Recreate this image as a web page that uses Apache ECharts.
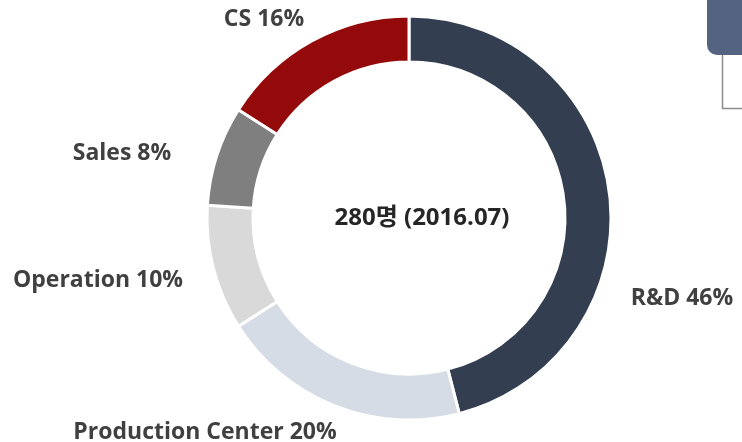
<!DOCTYPE html>
<html>
<head>
<meta charset="utf-8">
<script src="https://cdn.jsdelivr.net/npm/echarts@6/dist/echarts.min.js"></script>
<style>
  html, body { margin: 0; padding: 0; background: #fff; }
  #chart { width: 742px; height: 442px; }
</style>
</head>
<body>
<div id="chart"></div>
<script>
// 부서별 인원 비율
const categories = ['R&D', 'Production Center', 'Operation', 'Sales', 'CS'];
const percents = [46, 20, 10, 8, 16];
const colors = ['#333f50', '#d6dce5', '#d9d9d9', '#7f7f7f', '#940a0a'];
const centerText = '280명 (2016.07)';

// 라벨 위치 (중심 좌표)
const labelPos = [[682, 298], [205, 432], [98, 280], [122, 153], [264, 19]];

const font = '"Open Sans", "Noto Sans CJK KR", sans-serif';

const chart = echarts.init(document.getElementById('chart'));
const option = {
    animation: false,
    color: colors,
    series: [{
        type: 'pie',
        center: [409, 218],
        radius: [156, 202],
        startAngle: 90,
        clockwise: true,
        itemStyle: {
            borderColor: '#ffffff',
            borderWidth: 3
        },
        label: {
            show: true,
            position: 'outside',
            formatter: p => p.name + ' ' + p.value + '%',
            color: '#404040',
            fontFamily: font,
            fontWeight: 'bold',
            fontSize: 23,
            overflow: 'none'
        },
        labelLine: { show: false },
        labelLayout: params => ({
            x: labelPos[params.dataIndex][0],
            y: labelPos[params.dataIndex][1],
            align: 'center',
            verticalAlign: 'middle',
            width: 300
        }),
        emphasis: { disabled: true },
        data: categories.map((c, i) => ({ name: c, value: percents[i] }))
    }],
    graphic: [
        {
            type: 'text',
            x: 422,
            y: 218,
            style: {
                text: centerText,
                fill: '#262626',
                font: 'bold 24px ' + font,
                align: 'center',
                verticalAlign: 'middle'
            }
        },
        {
            type: 'rect',
            shape: { x: 707, y: -15, width: 60, height: 70, r: 10 },
            style: { fill: '#546480' }
        },
        {
            type: 'polyline',
            shape: { points: [[722.5, 55], [722.5, 108.5], [745, 108.5]] },
            style: { stroke: '#8c8c8c', lineWidth: 1.5, fill: null }
        }
    ]
};
chart.setOption(option);
</script>
</body>
</html>
